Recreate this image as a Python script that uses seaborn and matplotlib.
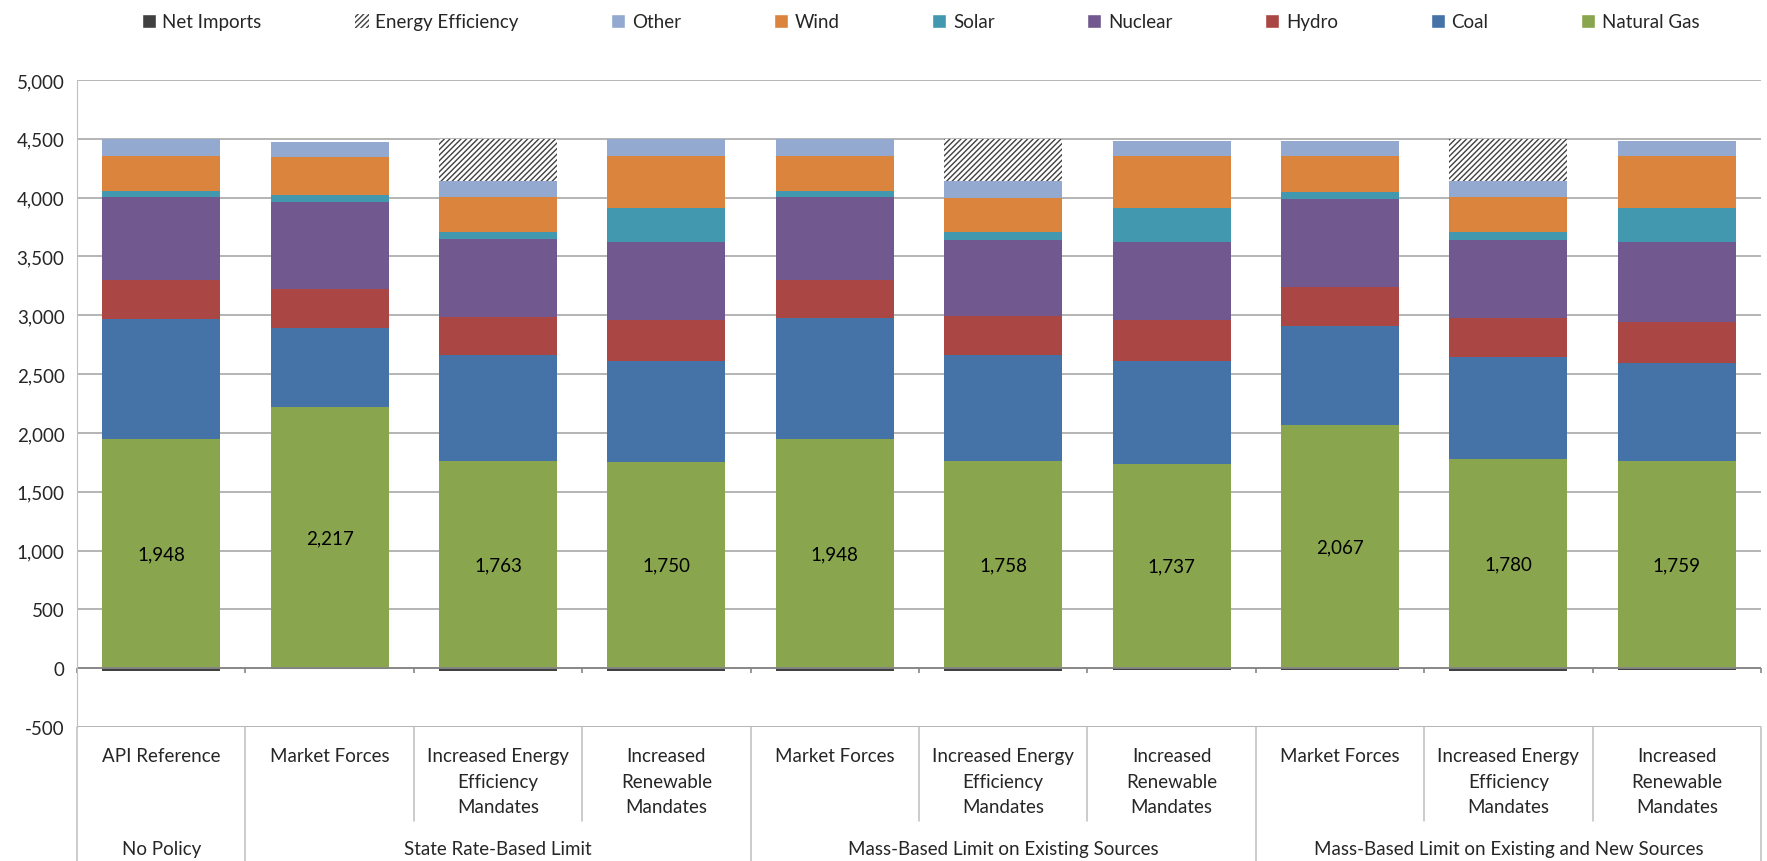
import matplotlib
matplotlib.use("Agg")
import matplotlib.pyplot as plt
import matplotlib.transforms as mtransforms
from matplotlib.patches import Patch
import seaborn as sns

scenarios = ["API Reference", "Market Forces", "Increased Energy\nEfficiency\nMandates",
             "Increased\nRenewable\nMandates", "Market Forces", "Increased Energy\nEfficiency\nMandates",
             "Increased\nRenewable\nMandates", "Market Forces", "Increased Energy\nEfficiency\nMandates",
             "Increased\nRenewable\nMandates"]
groups = ["No Policy", "State Rate-Based Limit", "Mass-Based Limit on Existing Sources",
          "Mass-Based Limit on Existing and New Sources"]
group_sizes = [1, 3, 3, 3]

natural_gas = [1948, 2217, 1763, 1750, 1948, 1758, 1737, 2067, 1780, 1759]
coal = [1023, 675, 902, 864, 1026, 907, 877, 842, 868, 835]
hydro = [329, 334, 323, 349, 329, 332, 349, 334, 329, 352]
nuclear = [703, 735, 664, 663, 700, 646, 663, 743, 666, 680]
solar = [57, 59, 53, 284, 57, 62, 289, 63, 62, 284]
wind = [295, 323, 298, 445, 295, 290, 440, 306, 298, 445]
other = [145, 134, 142, 142, 142, 150, 130, 130, 142, 130]
energy_eff = [0, 0, 352, 0, 0, 352, 0, 0, 352, 0]
net_imports = [-28, -8, -28, -28, -28, -28, -15, -15, -28, -15]

series = [
    ("Natural Gas", natural_gas, "#89A54E"),
    ("Coal", coal, "#4572A7"),
    ("Hydro", hydro, "#AA4643"),
    ("Nuclear", nuclear, "#71588F"),
    ("Solar", solar, "#4198AF"),
    ("Wind", wind, "#DB843D"),
    ("Other", other, "#93A9CF"),
]

sns.set_style("white")
plt.rcParams["font.family"] = ["Lato", "DejaVu Sans"]
plt.rcParams["hatch.color"] = "#404040"
plt.rcParams["hatch.linewidth"] = 1.0
FS = 13.5
TXT = "#262626"

fig = plt.figure(figsize=(17.67, 8.62), dpi=100)
ax = fig.add_axes([0.0436, 0.1555, 0.953, 0.7505])

xs = list(range(len(scenarios)))
bottom = [0] * len(xs)
for name, vals, col in series:
    sns.barplot(x=xs, y=vals, bottom=bottom, color=col, saturation=1, width=0.7,
                errorbar=None, linewidth=0, ax=ax)
    bottom = [b + v for b, v in zip(bottom, vals)]
sns.barplot(x=xs, y=energy_eff, bottom=bottom, color="white", saturation=1, width=0.7,
            errorbar=None, hatch="//////", edgecolor="#404040", linewidth=0, ax=ax)
sns.barplot(x=xs, y=net_imports, color="#404040", saturation=1, width=0.7, errorbar=None,
            linewidth=0, ax=ax)

ax.bar_label(ax.containers[0], labels=[f"{v:,}" for v in natural_gas],
             label_type="center", fontsize=FS, color="black")

ax.set_ylim(-500, 5000)
ax.set_xlim(-0.5, len(xs) - 0.5)
ax.set_yticks(range(-500, 5001, 500))
ax.set_yticklabels([f"{v:,}" for v in range(-500, 5001, 500)], fontsize=FS, color=TXT)
ax.tick_params(axis="y", length=0, pad=9)
ax.set_xticks([])
ax.set_xlabel("")
ax.set_ylabel("")
ax.yaxis.grid(True, color="#A0A0A0", linewidth=1.1)
ax.set_axisbelow(True)
for s in ["top", "right", "bottom"]:
    ax.spines[s].set_visible(False)
ax.spines["left"].set_color("#BFBFBF")
ax.axhline(0, color="#868686", linewidth=1.3, zorder=1)

# tick marks on the zero line at category boundaries
bounds = [i + 0.5 for i in range(-1, len(xs))]
ax.vlines(bounds, -45, 0, color="#868686", linewidth=1.2, clip_on=False)

# category table below the axis
trans = mtransforms.blended_transform_factory(ax.transData, fig.transFigure)
y_axis_bottom = 1 - 728 / 862
y_inner = 1 - 822 / 862
group_edges = [-0.5]
acc = -0.5
for g in group_sizes:
    acc += g
    group_edges.append(acc)
for b in bounds:
    y_end = 0 if b in group_edges else y_inner
    ax.plot([b, b], [y_axis_bottom, y_end], transform=trans, color="#BFBFBF",
            linewidth=1.1, clip_on=False)

for i, lab in enumerate(scenarios):
    ax.text(i, 1 - 748 / 862, lab, transform=trans, ha="center", va="top",
            fontsize=FS, color=TXT, linespacing=1.62)

start = -0.5
for g, n in zip(groups, group_sizes):
    ax.text(start + n / 2, 1 - 850 / 862, g, transform=trans, ha="center", va="center",
            fontsize=FS, color=TXT)
    start += n

# legend across the top
handles = [Patch(facecolor="#404040", label="Net Imports"),
           Patch(facecolor="white", edgecolor="#404040", hatch="//////", linewidth=0,
                 label="Energy Efficiency")]
for name, vals, col in reversed(series):
    handles.append(Patch(facecolor=col, label=name))
fig.legend(handles=handles, loc="lower left", bbox_to_anchor=(0.076, 0.955, 0.89, 0.04),
           mode="expand", ncol=9, frameon=False, fontsize=FS, handlelength=0.75,
           handleheight=0.75, handletextpad=0.35, borderaxespad=0, labelcolor=TXT)

fig.savefig("out.png", dpi=100)
